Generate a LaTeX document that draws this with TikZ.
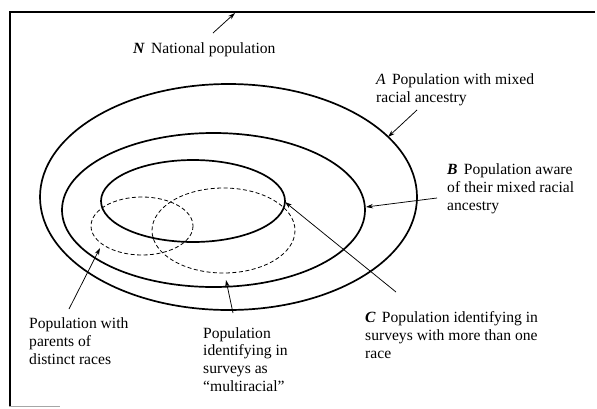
\documentclass[tikz,border=0pt]{standalone}
\usepackage{fontspec}
\setmainfont{Liberation Serif}
\usetikzlibrary{arrows.meta}
\begin{document}
\begin{tikzpicture}[x=1pt,y=-1pt,
  thickring/.style={line width=1.7pt},
  dashring/.style={line width=0.8pt, dash pattern=on 4pt off 2.5pt},
  pointer/.style={line width=0.75pt, -{Stealth[length=7pt,width=4.5pt]}},
  lbl/.style={anchor=base west, inner sep=0pt, align=left,
    font=\fontsize{15.6}{17.6}\selectfont}]
\useasboundingbox (0,0) rectangle (597,408);
% frame
\draw[line width=1.8pt] (595,12) -- (10,12) -- (10,406);
\draw[line width=0.6pt, gray!70] (9,406.5) -- (60,406.5);
% ellipses
\draw[thickring] (228.5,197) ellipse [x radius=188.5, y radius=113];
\draw[thickring] (213.5,210) ellipse [x radius=151.5, y radius=77];
\draw[thickring] (193,201) ellipse [x radius=92, y radius=41];
\draw[dashring] (142,226) ellipse [x radius=51, y radius=29];
\draw[dashring] (223.5,230.5) ellipse [x radius=71.5, y radius=42.5];
% labels (anchored at the baseline of their last line)
\node[lbl] (N) at (133,53) {\textbf{\textit{N}}\hspace{0.4em}National population};
\node[lbl] (A) at (376,102) {\textit{A}\hspace{0.4em}Population with mixed\\racial ancestry};
\node[lbl] (B) at (447,210) {\textbf{\textit{B}}\hspace{0.4em}Population aware\\of their mixed racial\\ancestry};
\node[lbl] (C) at (365,358) {\textbf{\textit{C}}\hspace{0.4em}Population identifying in\\surveys with more than one\\race};
\node[lbl] (P) at (29,364) {Population with\\parents of\\distinct races};
\node[lbl] (M) at (203,391) {Population\\identifying in\\surveys as\\“multiracial”};
% arrow ends
\coordinate (n0) at (213,33);  \coordinate (n1) at (235,13);
\coordinate (a0) at (417,110); \coordinate (a1) at (388,137);
\coordinate (b0) at (437,198); \coordinate (b1) at (366,207);
\coordinate (c0) at (396,292); \coordinate (c1) at (285,202);
\coordinate (p0) at (69,309);  \coordinate (p1) at (100,248);
\coordinate (m0) at (233,313); \coordinate (m1) at (226,280);
\draw[pointer] (n0) -- (n1);
\draw[pointer] (a0) -- (a1);
\draw[pointer] (b0) -- (b1);
\draw[pointer] (c0) -- (c1);
\draw[pointer] (p0) -- (p1);
\draw[pointer] (m0) -- (m1);
\end{tikzpicture}
\end{document}
